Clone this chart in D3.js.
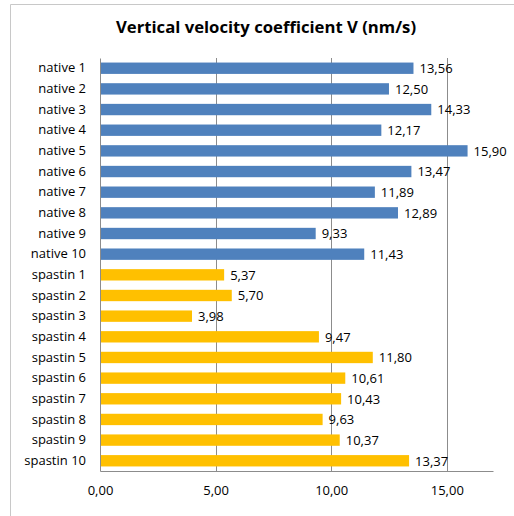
<!DOCTYPE html>
<html>
<head>
<meta charset="utf-8">
<script src="https://cdn.jsdelivr.net/npm/d3@7"></script>
<style>
  body { margin: 0; background: #fff; }
  svg { font-family: "Open Sans", "Noto Sans", sans-serif; }
</style>
</head>
<body>
<div class="container"></div>
<script>
const categories = ['native 1', 'native 2', 'native 3', 'native 4', 'native 5', 'native 6', 'native 7', 'native 8', 'native 9', 'native 10',
  'spastin 1', 'spastin 2', 'spastin 3', 'spastin 4', 'spastin 5', 'spastin 6', 'spastin 7', 'spastin 8', 'spastin 9', 'spastin 10']
const values = [13.56, 12.50, 14.33, 12.17, 15.90, 13.47, 11.89, 12.89, 9.33, 11.43,
  5.37, 5.70, 3.98, 9.47, 11.80, 10.61, 10.43, 9.63, 10.37, 13.37]
const groups = ['native', 'native', 'native', 'native', 'native', 'native', 'native', 'native', 'native', 'native',
  'spastin', 'spastin', 'spastin', 'spastin', 'spastin', 'spastin', 'spastin', 'spastin', 'spastin', 'spastin']
const xTicks = [0, 5, 10, 15]

const margin = { top: 58, left: 100, bottom: 45, right: 21 }
const W = 514, H = 516
const width = W - margin.left - margin.right
const height = H - margin.top - margin.bottom

const fmt = v => d3.format('.2f')(v).replace('.', ',')
const color = d3.scaleOrdinal().domain(['native', 'spastin']).range(['#4F81BD', '#FFC000'])

const svg = d3.select('.container').append('svg')
  .attr('width', W)
  .attr('height', H)

// chart frame
svg.append('path')
  .attr('d', `M10.5,${H} V4.5 H${W}`)
  .attr('fill', 'none')
  .attr('stroke', '#c8c8c8')

svg.append('text')
  .attr('x', 266)
  .attr('y', 33)
  .attr('text-anchor', 'middle')
  .style('font-size', '16.7px')
  .style('font-weight', 'bold')
  .text('Vertical velocity coefficient V (nm/s)')

const g = svg.append('g').attr('transform', `translate(${margin.left},${margin.top})`)

const x = d3.scaleLinear().domain([0, 17]).range([0, width])
const y = d3.scaleBand().domain(categories).range([0, height]).paddingInner(0.45).paddingOuter(0.22)

// gridlines
g.selectAll('.grid')
  .data(xTicks.slice(1))
  .enter().append('line')
  .attr('class', 'grid')
  .attr('x1', d => Math.round(x(d)) + 0.5)
  .attr('x2', d => Math.round(x(d)) + 0.5)
  .attr('y1', 0)
  .attr('y2', height)
  .attr('stroke', '#8c8c8c')

// bars
g.selectAll('.bar')
  .data(values)
  .enter().append('rect')
  .attr('class', 'bar')
  .attr('x', 0)
  .attr('y', (d, i) => y(categories[i]))
  .attr('width', d => x(d))
  .attr('height', y.bandwidth())
  .attr('fill', (d, i) => color(groups[i]))

// value labels
g.selectAll('.val')
  .data(values)
  .enter().append('text')
  .attr('class', 'val')
  .attr('x', d => x(d) + 6)
  .attr('y', (d, i) => y(categories[i]) + y.bandwidth() / 2)
  .attr('dy', '0.38em')
  .style('font-size', '13px')
  .attr('fill', '#000')
  .text(fmt)

// x axis
const xAxis = g.append('g')
  .attr('transform', `translate(0,${height})`)
  .call(d3.axisBottom(x).tickValues(xTicks).tickSize(0).tickPadding(15).tickFormat(fmt))
xAxis.select('.domain').attr('stroke', '#8c8c8c')
xAxis.selectAll('text').style('font-size', '13px').attr('fill', '#000').style('font-family', '"Open Sans", sans-serif')

// y axis
const yAxis = g.append('g')
  .call(d3.axisLeft(y).tickSize(0).tickPadding(14))
yAxis.select('.domain').attr('stroke', '#8c8c8c')
yAxis.selectAll('text').style('font-size', '13px').attr('fill', '#000').style('font-family', '"Open Sans", sans-serif')
</script>
</body>
</html>
